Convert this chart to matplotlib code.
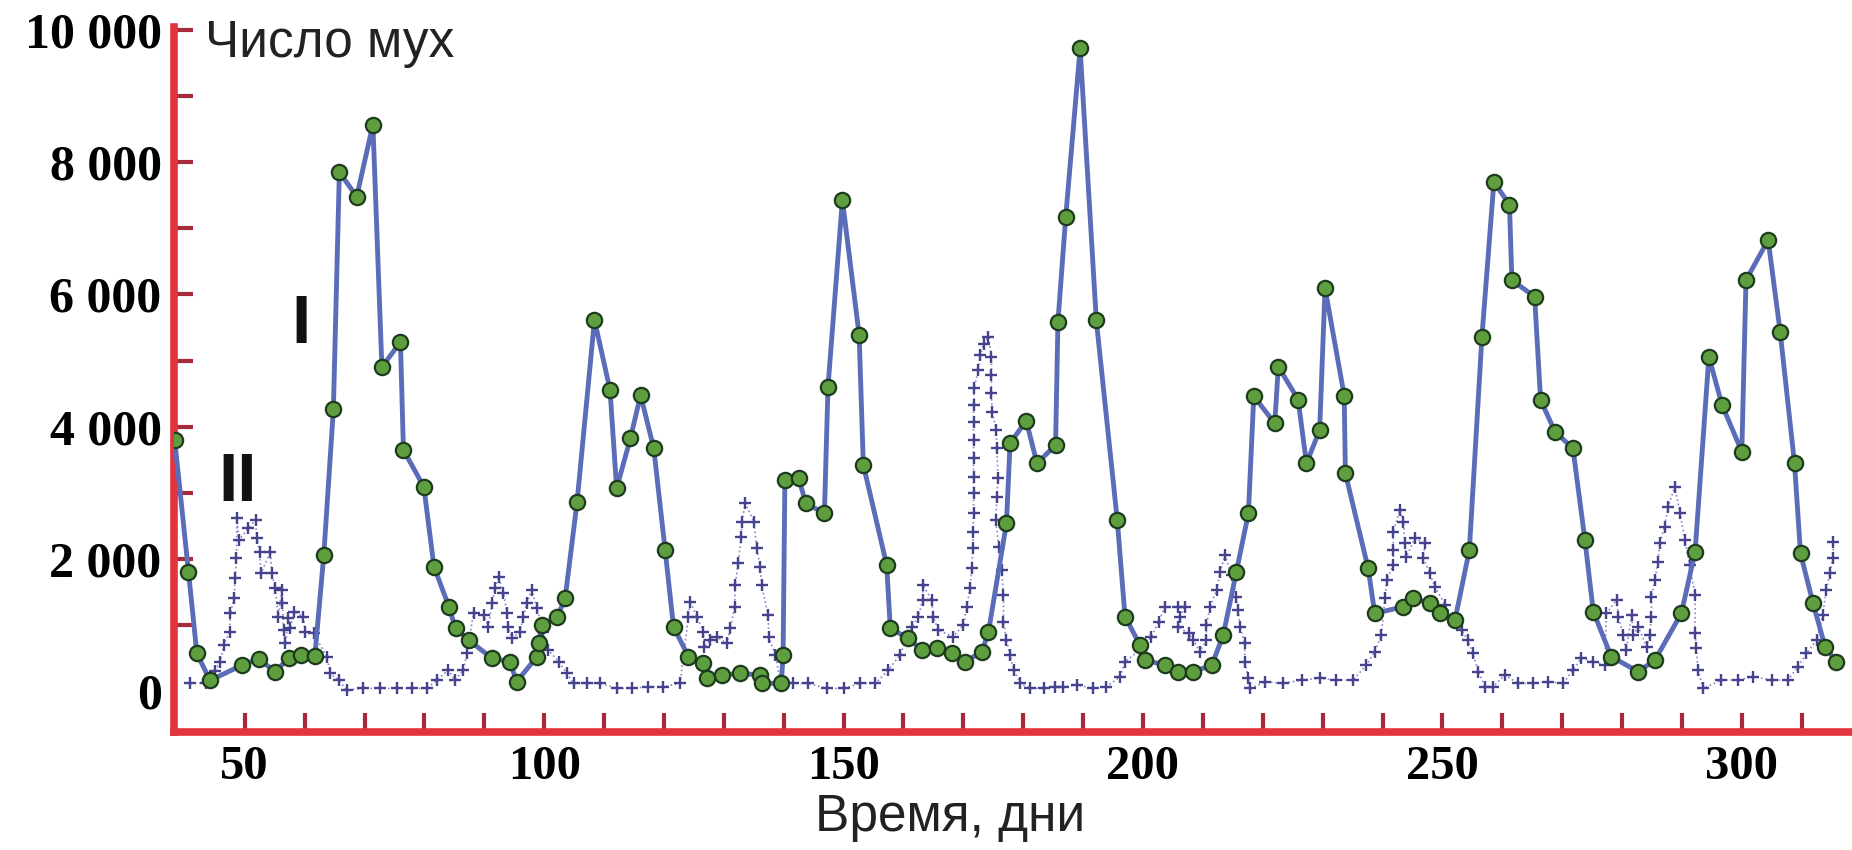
import matplotlib.pyplot as plt

# series I: counted flies (green circles)
days1 = [38.3, 40.6, 42.0, 44.2, 49.5, 52.4, 55.0, 57.4, 59.4, 61.7,
         63.2, 64.8, 65.8, 68.7, 71.4, 72.9, 76.0, 76.5, 79.9, 81.6,
         84.1, 85.2, 87.4, 91.3, 94.3, 95.4, 98.8, 99.1, 99.6, 102.2,
         103.5, 105.5, 108.4, 111.0, 112.1, 114.4, 116.1, 118.3, 120.2, 121.6,
         124.1, 126.6, 127.2, 129.7, 132.7, 136.1, 136.3, 139.6, 139.9, 140.2,
         142.5, 143.7, 146.8, 147.4, 149.8, 152.6, 153.3, 157.2, 157.8, 160.8,
         163.1, 165.6, 168.1, 170.3, 173.1, 174.2, 177.2, 177.8, 180.5, 182.3,
         185.4, 185.8, 187.1, 189.5, 192.2, 195.7, 197.0, 199.5, 200.3, 203.7,
         205.9, 208.4, 211.5, 213.4, 215.6, 217.6, 218.5, 222.0, 222.6, 225.9,
         227.3, 229.5, 230.4, 233.6, 233.8, 237.6, 238.7, 243.5, 245.1, 247.9,
         249.6, 252.1, 254.5, 256.6, 258.6, 261.2, 261.6, 265.4, 266.4, 268.8,
         271.8, 273.8, 275.2, 278.2, 282.7, 285.5, 289.9, 292.2, 294.5, 296.7,
         300.0, 300.7, 304.4, 306.4, 308.8, 309.8, 311.9, 313.9, 315.8]
flies1 = [3800, 1805, 570, 160, 390, 490, 290, 500, 545, 525,
          2057, 4260, 7850, 7480, 8570, 4900, 5280, 3646, 3090, 1880,
          1276, 948, 771, 494, 444, 141, 520, 721, 999, 1125,
          1402, 2864, 5613, 4554, 3066, 3823, 4478, 3671, 2133, 973,
          519, 418, 192, 242, 267, 242, 116, 116, 545, 3192,
          3217, 2839, 2688, 4604, 7428, 5386, 3419, 1906, 948, 797,
          620, 646, 570, 444, 595, 898, 2537, 3747, 4090, 3444,
          3722, 5590, 7176, 9723, 5613, 2587, 1125, 696, 469, 393,
          293, 293, 393, 847, 1805, 2688, 4460, 4050, 4907, 4410,
          3444, 3949, 6092, 4470, 3293, 1856, 1175, 1276, 1402, 1326,
          1175, 1074, 2133, 5360, 7705, 7353, 6218, 5965, 4402, 3923,
          3671, 2284, 1200, 520, 293, 469, 1175, 2108, 5058, 4327,
          3621, 6218, 6823, 5436, 3444, 2083, 1326, 671, 444]

# series II: crosses
days2 = [40.9, 43.5, 45.0, 45.9, 46.5, 47.5, 47.6, 48.2, 48.4, 48.6, 48.7, 49.0,
         50.6, 51.8, 52.0, 52.5, 52.7, 54.3, 54.5, 55.1, 55.6, 56.2, 56.3, 56.5,
         56.8, 57.3, 57.6, 58.2, 59.8, 60.1, 61.5, 63.7, 64.3, 65.7, 67.0, 69.8,
         72.6, 75.4, 77.9, 80.4, 82.1, 84.0, 85.1, 86.5, 87.1, 88.2,
         89.9, 90.7, 91.3, 91.8, 92.4, 93.2, 93.8, 94.0, 94.6, 96.0, 96.5, 97.1,
         97.9, 98.8, 99.8, 100.7, 102.4, 103.8, 104.9, 107.1, 109.4, 112.1, 114.6,
         117.4, 119.9, 122.7,
         124.1, 124.4, 125.5, 126.6, 126.7, 127.7, 128.8, 130.5, 131.1, 131.8,
         131.9, 132.4, 132.9, 133.0, 133.6, 135.0, 135.5, 136.1, 136.3, 137.4,
         137.5, 138.6, 139.4, 141.6, 144.1, 147.2, 150.0, 152.8, 155.3, 157.5, 159.4,
         161.4, 162.5, 163.2, 163.3, 164.7, 165.0, 165.8, 168.3, 170.0, 170.6,
         171.1, 171.4, 171.6, 171.6, 171.7, 171.7, 171.7, 171.7, 171.7, 171.7,
         171.7, 171.8, 172.5, 172.8, 173.4, 174.2, 174.7, 174.7, 174.7, 174.8,
         175.5, 175.6, 175.8, 175.6, 175.4, 175.9, 176.4, 176.7, 176.7, 177.2,
         177.8, 178.4, 179.5, 181.1, 183.4, 185.3, 186.7, 188.9, 191.7, 193.9,
         196.2, 197.0,
         199.5, 201.4, 202.6, 203.7, 205.9, 207.0, 206.2, 205.9, 207.6, 208.4,
         209.5, 210.6, 210.6, 211.2, 212.3, 212.9, 213.7, 214.8, 215.6, 215.9,
         216.2, 217.0, 217.0, 217.6, 217.9, 220.4, 223.4, 226.5, 229.5, 232.3,
         235.1, 237.3, 238.7, 239.8, 240.4, 240.7, 241.8, 241.8, 241.8, 242.9,
         243.5, 243.7, 244.0, 245.4, 247.1, 246.8, 247.9, 248.7, 250.5, 251.8,
         253.2, 254.2, 255.1, 256.0, 257.1, 258.5, 260.4, 262.7, 265.2, 267.7,
         270.2, 271.8, 273.2, 275.2, 277.1, 277.4, 279.1, 279.4, 280.2, 280.7,
         281.6, 281.9, 282.7, 284.1, 284.6, 284.9, 284.9, 285.5, 286.0, 286.3,
         287.1, 287.7, 288.8, 289.7, 290.5, 291.3, 292.2, 292.2, 292.4, 292.7,
         293.5, 296.6, 299.4, 301.9, 305.0, 307.7, 309.4, 310.8, 312.5, 313.5,
         314.1, 314.7, 315.2, 315.3]
flies2 = [116, 120, 300, 444, 696, 898, 1175, 1402, 1705, 2007, 2612, 2285,
          2461, 2587, 2310, 2108, 1780, 2108, 1780, 1553, 1125, 1528, 1326, 923,
          721, 1099, 948, 1200, 1125, 898, 872, 520, 267, 166, 15, 40,
          40, 40, 40, 40, 166, 318, 166, 318, 570, 1175,
          1150, 973, 1326, 1553, 1730, 1478, 1175, 973, 797, 898, 1125, 1326,
          1528, 1250, 900, 620, 444, 267, 116, 116, 116, 40, 40,
          66, 66, 116,
          1125, 1352, 1125, 898, 671, 772, 822, 721, 948, 1276,
          1604, 1932, 2335, 2562, 2839, 2562, 2158, 1881, 1604, 1150,
          822, 545, 166, 116, 116, 40, 40, 116, 116, 318, 545,
          973, 1125, 1377, 1604, 1377, 1125, 923, 822, 999, 1276,
          1553, 1856, 2158, 2411, 2688, 2991, 3243, 3520, 3797, 4075,
          4327, 4579, 4856, 5083, 5250, 5360, 5058, 4781, 4504, 4226,
          3949, 3671, 3217, 2940, 2587, 2184, 1831, 1452, 1049, 772,
          545, 318, 116, 40, 40, 66, 66, 91, 40, 66,
          217, 444,
          620, 822, 1049, 1276, 1276, 1276, 1125, 973, 872, 772,
          595, 772, 999, 1276, 1528, 1805, 2057, 1750, 1427, 1225,
          973, 721, 444, 192, 40, 141, 116, 166, 192, 166,
          166, 393, 595, 847, 1402, 1679, 1907, 2133, 2411, 2738,
          2562, 2234, 2032, 2310, 2234, 2007, 1780, 1579, 1300, 1100,
          923, 772, 570, 293, 66, 66, 242, 116, 116, 141,
          116, 318, 494, 444, 393, 1175, 1377, 1125, 847, 620,
          1150, 847, 973, 671, 847, 1125, 1427, 1679, 1957, 2234,
          2486, 2789, 3091, 2688, 2284, 1907, 1452, 872, 646, 318,
          40, 166, 166, 217, 166, 166, 368, 570, 772, 1150,
          1528, 1780, 2007, 2259]

ytick_vals = [0, 2000, 4000, 6000, 8000, 10000]
ytick_labels = ['0', '2 000', '4 000', '6 000', '8 000', '10 000']
xtick_vals = [50, 100, 150, 200, 250, 300]

red = '#e2343f'
tickred = '#a82a3a'

fig = plt.figure(figsize=(18.52, 8.5), dpi=100)
ax = fig.add_axes([0.094, 0.1388, 0.906, 0.8298])

ax.plot(days2, flies2, linestyle=':', color='#8a86c8', lw=1.2, zorder=2)
ax.plot(days2, flies2, linestyle='none', marker='+', color='#45438e',
        ms=8, mew=1.7, zorder=3)
ax.plot(days1, flies1, color='#5b6cb8', lw=3.5, zorder=4,
        marker='o', ms=11, mfc='#5e9e3e', mec='#1d3b1d', mew=1.6)

ax.set_xlim(38.2, 318.4)
ax.set_ylim(-620, 10050)

for s in ['top', 'right']:
    ax.spines[s].set_visible(False)
for s in ['left', 'bottom']:
    ax.spines[s].set_color(red)
    ax.spines[s].set_linewidth(5.5)

ax.set_yticks(ytick_vals)
ax.set_yticklabels(ytick_labels)
ax.set_yticks(range(1000, 10000, 2000), minor=True)
ax.set_xticks(xtick_vals)
ax.set_xticks([t for t in range(60, 320, 10) if t % 50 != 0], minor=True)

ax.tick_params(axis='both', which='both', direction='in', length=14,
               width=3, color=tickred)
ax.tick_params(axis='y', which='major', pad=9)
ax.tick_params(axis='x', which='major', pad=9)
ax.yaxis.get_major_ticks()[0].tick1line.set_visible(False)

for lab in ax.get_yticklabels():
    lab.set_fontfamily('Liberation Serif')
    lab.set_fontweight('bold')
    lab.set_fontsize(36)
for lab in ax.get_xticklabels():
    lab.set_fontfamily('Liberation Serif')
    lab.set_fontweight('bold')
    lab.set_fontsize(35)

fig.text(0.1107, 0.949, 'Число мух', family='Liberation Sans', fontsize=37,
         va='center', ha='left', color='#222222')
fig.text(0.513, 0.0388, 'Время, дни', family='Liberation Sans', fontsize=37,
         va='center', ha='center', color='#222222')
fig.text(0.1625, 0.6176, 'I', family='Liberation Sans', fontweight='bold',
         fontsize=50, va='center', ha='center', color='#111111')
fig.text(0.1285, 0.4318, 'II', family='Liberation Sans', fontweight='bold',
         fontsize=50, va='center', ha='center', color='#111111')

plt.savefig('out.png', dpi=100)
